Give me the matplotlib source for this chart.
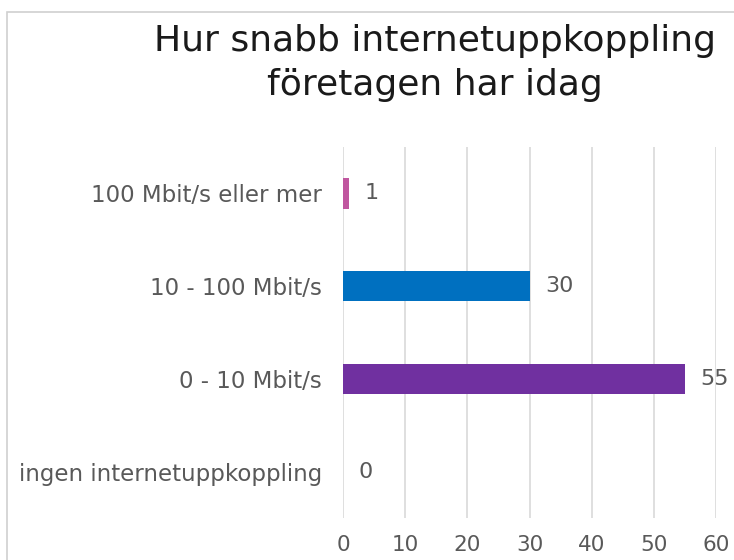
import matplotlib.pyplot as plt
from matplotlib.patches import Rectangle

# data
categories = ["ingen internetuppkoppling", "0 - 10 Mbit/s", "10 - 100 Mbit/s", "100 Mbit/s eller mer"]
values = [0, 55, 30, 1]
bar_colors = ["#7030a0", "#7030a0", "#0070c0", "#c0569f"]
xticks = [0, 10, 20, 30, 40, 50, 60]
title = "Hur snabb internetuppkoppling\nföretagen har idag"

plt.rcParams['font.family'] = ['DejaVu Sans']
grey = "#595959"

fig = plt.figure(figsize=(7.34, 5.6), dpi=100)
# chart area border (the crop cuts it off on right and bottom)
fig.patches.append(Rectangle((7 / 734, -0.1), 1.2, (560 - 12) / 560 + 0.1,
                             transform=fig.transFigure, fill=False,
                             edgecolor="#d0d0d0", linewidth=1.2))

ax = fig.add_axes([343 / 734, 42 / 560, 373 / 734, 371 / 560])
pos = range(len(categories))
ax.barh(pos, values, height=0.33, color=bar_colors)
for p, v in zip(pos, values):
    ax.annotate(str(v), (v, p), xytext=(11, 0), textcoords="offset points",
                va="center", ha="left", fontsize=16, color=grey)

ax.set_xlim(0, 60)
ax.set_ylim(-0.5, len(categories) - 0.5)
ax.set_xticks(xticks)
ax.set_yticks(list(pos))
ax.set_yticklabels(categories)
ax.tick_params(axis="both", length=0, colors=grey, labelsize=16.5)
ax.tick_params(axis="x", pad=12, labelsize=15.5)
ax.tick_params(axis="y", pad=15)
ax.grid(axis="x", color="#d9d9d9", linewidth=1.2)
ax.set_axisbelow(True)
for s in ax.spines.values():
    s.set_visible(False)

fig.text(435 / 734, 1 - 24 / 560, title, ha="center", va="top",
         fontsize=26, color="#1a1a1a", linespacing=1.36)

fig.savefig("out.png", dpi=100)
